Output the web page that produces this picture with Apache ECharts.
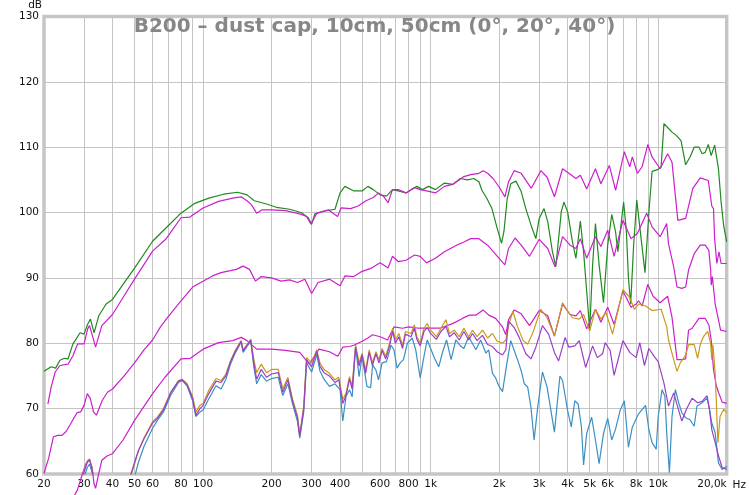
<!DOCTYPE html>
<html><head><meta charset="utf-8">
<script src="https://cdn.jsdelivr.net/npm/echarts@6/dist/echarts.min.js"></script>
<style>html,body{margin:0;padding:0;background:#fff}#c{width:749px;height:495px}</style>
</head><body><div id="c"></div>
<script>
const titleText = 'B200 \u2013 dust cap, 10cm, 50cm (0\u00b0, 20\u00b0, 40\u00b0)';
const gridFreqs = [20,30,40,50,60,70,80,90,100,200,300,400,500,600,700,800,900,1000,2000,3000,4000,5000,6000,7000,8000,9000,10000,20000];
const labelFreqs = [20,30,40,50,60,80,100,200,300,400,600,800,1000,2000,3000,4000,5000,6000,8000,10000,20000];
const yTicks = [60,70,80,90,100,110,120,130];

const green = [[20,75.7],[21.5,76.4],[22.5,76.2],[23.5,77.4],[24.6,77.7],[25.5,77.6],[26.8,79.9],[27.4,80.4],[28.8,81.6],[30,81.4],[31.1,82.9],[32,83.7],[33.2,81.6],[34.8,84.2],[37.5,86],[40,86.7],[44.5,89],[50,91.5],[60,95.6],[68.5,97.6],[80,99.9],[92,101.4],[106,102.2],[123,102.8],[142,103.1],[156,102.7],[168,101.8],[190,101.3],[210,100.8],[240,100.5],[270,100],[290,99.2],[300,98.2],[310,99.8],[340,100.2],[380,100.5],[400,103],[420,104],[460,103.3],[500,103.3],[530,104],[560,103.5],[600,102.7],[640,102.5],[680,103.5],[720,103.3],[780,103],[820,103.5],[870,104],[920,103.5],[980,104],[1050,103.5],[1150,104.5],[1250,104.3],[1350,105.2],[1450,105],[1550,105.2],[1630,104.7],[1680,103.4],[1770,102.1],[1860,100.6],[1960,97.6],[2050,95.3],[2100,97.1],[2170,102.1],[2250,104.4],[2370,104.8],[2500,103.2],[2620,100.6],[2760,98.1],[2900,96],[3000,99.1],[3150,100.6],[3270,98.6],[3430,94],[3550,91.7],[3750,100.1],[3850,101.6],[4000,100.1],[4200,95.5],[4350,93],[4550,98.7],[4700,94],[4850,88],[5000,82],[5150,92],[5300,98.3],[5500,92],[5750,86.2],[6000,95],[6250,99.7],[6500,97],[6650,94],[7050,101.6],[7250,97],[7400,90],[7570,86],[7800,95],[8050,101.9],[8350,97],[8750,90.8],[9100,100],[9400,106.3],[10000,106.6],[10300,107],[10600,113.6],[11000,113],[11500,112.3],[12000,111.8],[12600,111],[13200,107.3],[13800,108.5],[14400,110],[15100,110],[15600,109],[16100,109.2],[16600,110.4],[17100,108.7],[17700,110.3],[18400,106.7],[18900,101.6],[19400,98],[20000,95.5]];

const magentaA = [[20.8,70.7],[21.5,73.3],[22.4,75.6],[23.5,76.6],[25.5,76.8],[26.8,78.1],[28.1,79.9],[30,79.9],[31.1,82.2],[31.7,82.7],[32.8,80.9],[33.7,79.4],[35.9,82.7],[40,84.4],[44.5,87],[50,89.8],[60,94.1],[68.5,95.9],[80,99.2],[87.5,99.3],[100,100.7],[117,101.7],[135,102.2],[147,102.4],[156,101.8],[163,101.2],[172,99.9],[181,100.4],[200,100.4],[230,100.3],[266,99.8],[285,99.4],[298,98.2],[316,99.9],[356,100.4],[390,99.4],[404,100.7],[445,100.6],[480,101],[520,101.8],[560,102.3],[590,103],[620,102.5],[650,101.5],[680,103.5],[720,103.5],[780,103],[850,103.8],[900,103.5],[960,103.3],[1050,103],[1150,104],[1250,104.3],[1400,105.5],[1500,105.8],[1630,106],[1700,106.4],[1780,106],[1880,105.2],[2000,103.9],[2120,102.4],[2200,104.7],[2330,106.4],[2500,106],[2770,103.7],[3050,106.4],[3250,105.4],[3500,102.4],[3800,106.7],[4050,106],[4350,105.2],[4550,105.7],[4850,103.6],[5300,106.7],[5600,104.4],[6100,107.2],[6500,103.4],[7100,109.3],[7500,107],[7700,108.5],[8100,106],[8500,107],[9000,110.4],[9400,108.5],[10200,106.7],[11000,109],[11500,107.7],[12200,98.8],[13200,99.1],[14200,103.7],[15300,105.3],[16600,104.9],[17200,101],[17500,100.6],[17700,96],[18100,92.2],[18500,94],[18900,92.2],[20000,92.2]];

const magentaB = [[20,60.1],[21,62.5],[22,65.7],[23,65.9],[24,65.9],[25,66.5],[26,67.5],[27,68.5],[28,69.4],[29,69.5],[30,70.5],[31,72.3],[32,71.5],[33,69.5],[34,69],[36,71.2],[38,72.5],[40,73],[45,75],[50,77],[55,79],[60,80.5],[65,82.5],[70,84],[80,86.5],[90,88.6],[100,89.5],[110,90.3],[120,90.8],[140,91.3],[150,91.8],[160,91.3],[170,89.5],[180,90.2],[200,90],[220,89.5],[240,89.7],[260,89.3],[280,89.8],[300,87.6],[320,89.3],[360,89.8],[400,88.8],[420,90.3],[460,90.2],[500,91],[550,91.5],[600,92.3],[650,91.5],[680,93.3],[720,92.5],[780,92.7],[850,93.5],[900,93.3],[960,92.3],[1050,93],[1150,94],[1300,95],[1400,95.5],[1500,96],[1630,96],[1780,95],[2000,93],[2120,92],[2200,94.5],[2350,96.1],[2500,95],[2720,93.3],[3000,95.9],[3270,94.5],[3520,91.7],[3800,96.3],[4100,95],[4350,94.5],[4550,96],[4850,93],[5300,96.3],[5600,94.8],[6000,97.3],[6400,93.3],[7000,98.8],[7600,96],[8100,96.8],[8900,99.9],[9400,97.8],[10200,96.3],[10900,98.3],[11100,95.2],[11700,91.7],[12100,88.6],[12700,88.4],[13200,88.6],[13600,91.2],[14400,93.7],[15300,95],[16100,95],[16700,94.2],[17000,91.2],[17100,88.9],[17300,90.2],[17800,86],[18400,83.6],[18800,82],[20000,81.8]];

const magentaC = [[25,54.5],[26.5,56],[28,57.5],[29.5,60],[30.5,61.5],[31.7,62.2],[32.5,61],[33.2,58.5],[33.7,57.8],[34.5,59.5],[35.9,62.1],[38,62.8],[40,63.1],[44.5,65.2],[50,68.2],[60,72.3],[68,74.8],[80,77.6],[88,77.7],[100,79.1],[117,80.1],[135,80.4],[147,80.9],[156,80.4],[172,79.1],[200,79.1],[230,78.9],[266,78.6],[293,76.8],[323,79.1],[359,78.7],[391,78],[411,79.4],[440,79.5],[460,79.7],[500,80.3],[530,80.8],[556,81.3],[600,81],[647,80.5],[690,82.5],[753,82.3],[800,82.5],[890,82.3],[990,82.3],[1100,82.3],[1249,83],[1380,83.8],[1480,84.3],[1580,84.3],[1700,85.1],[1800,84.3],[1930,83.8],[2070,82.5],[2140,81.3],[2200,83.6],[2330,85.1],[2500,84.5],[2720,82.7],[3000,85],[3270,84.2],[3500,81.1],[3800,86],[4100,84.4],[4350,84.2],[4550,85],[4850,82.2],[5300,85.2],[5600,83.2],[6000,85.5],[6400,82.9],[7000,88],[7600,85.5],[8000,86],[8200,86.5],[8500,85.7],[9000,89],[9500,87.2],[10200,86.2],[11000,87.2],[11500,84],[12100,77.5],[12700,77.5],[13200,77.6],[13600,82],[14100,82.3],[15100,83.8],[16100,83.8],[16700,82.8],[17100,80.5],[17500,76],[18000,73.5],[18400,72.5],[19100,71],[20000,70.8]];

const gold = [[29,58],[30,60.5],[31,62],[31.7,62.3],[32.5,61],[33.5,58],[35,55],[45,55],[48,59.5],[50,61.5],[52,63.5],[55,65.5],[60,68],[63,68.7],[67,70],[72,72.5],[78,74.3],[81,74.5],[85,73.8],[90,71.8],[93,69.5],[97,70.5],[100,70.8],[106,72.8],[114,74.6],[120,74.3],[126,75.3],[132,77.3],[138,78.8],[147,80.4],[150,79],[156,79.8],[162,80.6],[167,77.6],[172,75.5],[180,76.8],[190,75.5],[200,76],[214,76],[224,73],[236,74.8],[247,71.5],[260,69],[266,66],[277,70.5],[285,77.8],[300,77],[316,79],[326,77],[340,76],[359,75.4],[380,74.4],[395,74.8],[411,71.4],[425,72.4],[440,74.9],[452,73.4],[468,79.7],[485,77],[500,78.5],[518,75.9],[537,79],[555,77],[575,78.7],[593,77.5],[612,79.2],[635,78],[660,80],[681,82.3],[700,80.5],[725,81.5],[753,79.7],[775,81.8],[820,81.5],[848,82.8],[870,81],[900,80],[935,82.3],[966,83],[1000,82],[1060,81],[1110,82.3],[1167,83.6],[1210,81.5],[1270,82],[1336,81],[1400,82.3],[1470,81],[1528,82],[1600,81],[1690,82],[1780,80.8],[1870,81.5],[1960,80.3],[2070,80],[2140,80.5],[2200,82.7],[2300,84.9],[2400,82.7],[2550,80.4],[2670,79.9],[2800,81.4],[3050,85.2],[3250,83.9],[3500,81.1],[3800,86.2],[4000,84.9],[4200,83.9],[4500,83.7],[4700,84.4],[5000,81.9],[5300,85.2],[5600,83.7],[5900,84.7],[6300,81.4],[7000,88.2],[7500,87],[7850,85.2],[8200,86],[8800,85.7],[9400,85],[10300,85.2],[10900,82.5],[11100,80.5],[11700,77.5],[12100,75.7],[12500,77],[13200,78.2],[13600,79.8],[14400,79.8],[14900,77.7],[15300,79.8],[15800,81],[16500,81.8],[17000,80],[17200,77.5],[17400,79.8],[17800,75.5],[18300,64.8],[18700,68.8],[19400,69.9],[20000,69.4]];

const purple = [[29,58],[30,60.3],[31,61.8],[31.7,62.2],[32.5,60.8],[33.5,57.8],[35,55],[45,55],[48,59.8],[50,61.8],[52,63.6],[55,65.4],[60,67.8],[63,68.5],[67,69.8],[72,72.4],[78,74.2],[81,74.4],[85,73.7],[90,71.5],[93,69],[97,70],[100,70.5],[106,72.3],[114,74.2],[120,74],[126,75],[132,77.2],[138,78.6],[147,80.3],[150,78.8],[156,79.7],[162,80.5],[167,77],[172,74.5],[180,76],[190,74.8],[200,75.3],[214,75.5],[224,72.5],[236,74.4],[247,71.2],[260,68.5],[266,65.8],[277,70],[285,77.5],[300,76.4],[316,78.8],[326,76.5],[340,75.5],[359,75],[380,74],[395,74.4],[411,70.8],[425,72],[440,74.5],[452,73],[468,79.4],[485,76.5],[500,78.2],[518,75.4],[537,78.6],[555,76.6],[575,78.4],[593,77],[612,78.9],[635,77.6],[660,79.6],[681,81.8],[700,80],[725,81],[753,79.2],[775,81.4],[820,81],[848,82.3],[870,80.6],[900,79.6],[935,81.8],[966,82.4],[1000,81.5],[1060,80.6],[1110,81.8],[1167,82.6],[1210,81],[1270,81.6],[1336,80.5],[1400,81.8],[1470,80.5],[1528,81.5],[1600,80.4],[1690,81.2],[1780,79.8],[1870,79.5],[1960,78.7],[2070,78.2],[2140,79],[2200,83.4],[2330,82.4],[2450,80.9],[2620,78.4],[2760,77.6],[2900,79.4],[3100,82.7],[3300,81.4],[3500,78.6],[3650,77.3],[3900,80.9],[4050,79.4],[4300,79.6],[4500,80.4],[4800,76.3],[5150,79.6],[5400,77.8],[5700,78.4],[5850,80.1],[6150,78.9],[6400,75.1],[7000,80.4],[7500,78.6],[8000,77.8],[8300,80.1],[8700,76.6],[9100,79.2],[9600,78],[10000,77.2],[10600,73.9],[11100,70.4],[11700,72.4],[12100,70.6],[12700,68.1],[13300,69.9],[14100,71.6],[14900,70.9],[15600,71.1],[16400,72],[16800,69.9],[17200,66.8],[17800,64.8],[18400,62.8],[19100,61],[20000,60.7]];

const blue = [[29,57.5],[30,59.5],[31,61],[31.7,61.5],[32.5,60.3],[33.5,57.5],[35,55],[47,55],[50,59.5],[52,61.8],[55,64.2],[60,67],[63,68.2],[67,69.5],[72,72],[78,74],[81,74.3],[85,73.5],[90,71.2],[93,68.8],[97,69.5],[100,69.8],[106,71.5],[114,73.5],[120,73],[126,74.5],[132,76.8],[138,78.4],[147,80.2],[150,78.6],[156,79.5],[162,80.3],[167,76.5],[172,73.8],[180,75.2],[190,74.2],[200,74.6],[214,74.8],[224,72],[236,73.8],[247,70.8],[260,68],[266,65.5],[277,69.5],[285,77],[300,75.6],[316,78.3],[326,75.8],[340,74.5],[359,73.4],[380,73.8],[400,72.9],[411,68.1],[425,71.9],[440,72.9],[452,71.8],[468,79.5],[485,74.9],[500,78],[525,73.4],[545,73.2],[556,76.7],[575,75.9],[590,74.4],[612,77],[640,77.2],[670,79.7],[690,79],[712,76.2],[735,77],[760,77.5],[790,80],[830,80.8],[860,79],[900,74.7],[935,78],[966,80.5],[1000,79.2],[1040,77.7],[1085,76.4],[1130,78.7],[1175,80.5],[1230,77.5],[1290,80.5],[1360,79.5],[1400,79.2],[1470,81],[1580,79],[1660,80.5],[1748,78.5],[1800,79],[1870,75.4],[1930,74.7],[2000,73.4],[2070,72.6],[2140,75.9],[2200,78.5],[2250,80.4],[2330,78.9],[2420,77.3],[2500,75.8],[2580,73.8],[2670,73.3],[2760,70.2],[2850,65.2],[2950,70],[3100,75.6],[3250,73.3],[3500,66.4],[3700,75],[3800,74.3],[4000,69.7],[4150,67.2],[4300,71.2],[4450,70.7],[4600,67.2],[4700,61.4],[4850,66.2],[5100,68.7],[5300,65.2],[5500,61.6],[5750,66.2],[6000,68.5],[6250,65.2],[6500,66.9],[6800,69.7],[7100,71.2],[7400,64.1],[7700,67.2],[8200,69.2],[8800,70.5],[9100,66.8],[9400,64.8],[9800,63.8],[10000,68.8],[10400,72.9],[10700,71.9],[10900,66.3],[11200,60.2],[11500,68.8],[11900,72.9],[12300,70.9],[12700,69.4],[13200,68.6],[13800,68.3],[14400,67.3],[14800,70.4],[15600,70.9],[16400,71.6],[16800,69.9],[17200,67.8],[17800,66.3],[18400,61.7],[19100,60.7],[20000,61.2]];

function fmtHz(v){
  if (v >= 20000) return '20,0k';
  if (v >= 1000) return (v/1000) + 'k';
  return String(v);
}
const lbl = {fontFamily:'DejaVu Sans', fontSize:10.5, color:'#111'};
function line(name, data, color, clip){
  return {name, type:'line', data, showSymbol:false, symbol:'none', clip: clip !== false,
    lineStyle:{color, width:1.2}, itemStyle:{color}, silent:true, animation:false, z:3};
}
const chart = echarts.init(document.getElementById('c'), null, {renderer:'canvas'});
chart.setOption({
  animation:false,
  backgroundColor:'#fff',
  title:{text:titleText, left:'center', top:12,
    textStyle:{fontFamily:'DejaVu Sans', fontWeight:'bold', fontSize:20, color:'#878787'}},
  grid:{left:44, right:21, top:14, bottom:21, show:true, borderColor:'#c6c6c6', borderWidth:3.5, backgroundColor:'#fff'},
  xAxis:{type:'log', logBase:10, min:20, max:20000,
    name:'Hz', nameLocation:'end', nameGap:5,
    nameTextStyle:Object.assign({}, lbl, {verticalAlign:'top', padding:[6,0,0,0]}),
    axisLine:{show:false}, axisTick:{show:false, customValues:gridFreqs},
    splitLine:{show:true, lineStyle:{color:'#c4c4c4', width:1}},
    axisLabel:Object.assign({}, lbl, {customValues:labelFreqs, formatter:fmtHz, margin:5, alignMaxLabel:'right', showMinLabel:true, showMaxLabel:true})},
  yAxis:{type:'value', min:60, max:130, interval:10,
    name:'dB', nameLocation:'end', nameGap:3,
    nameTextStyle:Object.assign({}, lbl, {align:'right', verticalAlign:'bottom', padding:[0,2,0,0]}),
    axisLine:{show:false}, axisTick:{show:false},
    splitLine:{show:true, lineStyle:{color:'#c4c4c4', width:1}},
    axisLabel:Object.assign({}, lbl, {margin:5})},
  series:[
    line('10cm 0°', green, '#1f8a1f'),
    line('10cm 20°', magentaA, '#cc1fcc'),
    line('10cm 40°', magentaB, '#cc1fcc'),
    line('50cm ref', magentaC, '#cc1fcc', false),
    line('50cm 40°', blue, '#3a8fc4'),
    line('50cm 20°', gold, '#c89a1c'),
    line('50cm 0°', purple, '#9a3ec8')
  ]
});
</script></body></html>
